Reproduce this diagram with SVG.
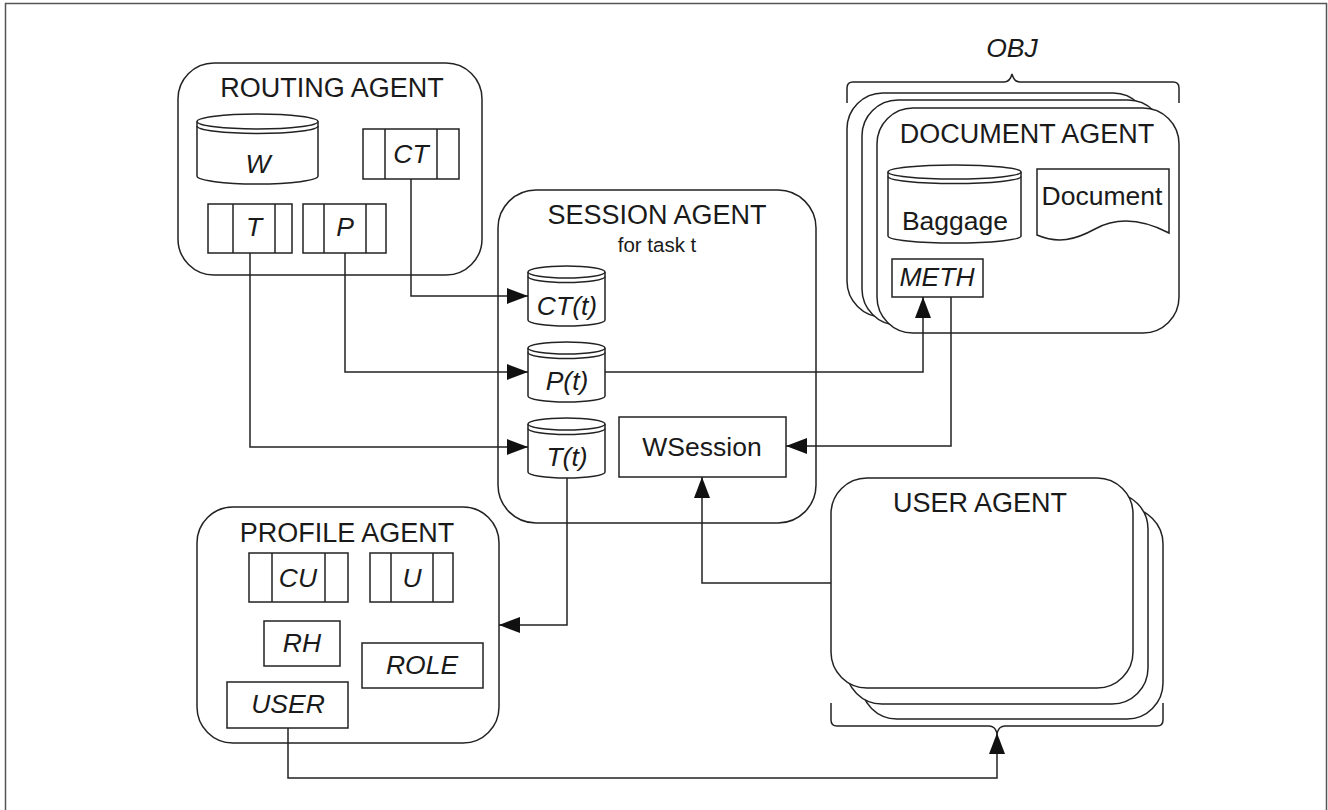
<svg xmlns="http://www.w3.org/2000/svg" width="1328" height="810" viewBox="0 0 1328 810">
  <defs>
    <style>
      .frame { fill: #fff; stroke: #555; stroke-width: 1.5; }
      .box { fill: #fff; stroke: #222; stroke-width: 1.5; }
      .ln { fill: none; stroke: #222; stroke-width: 1.5; }
      .wire { fill: none; stroke: #222; stroke-width: 1.5; }
      .t { font-family: "Liberation Sans", Arial, sans-serif; font-size: 26.5px; fill: #1a1a1a; text-anchor: middle; }
      .h { font-size: 27px; }
      .i { font-style: italic; }
      .s { font-size: 20.5px; }
    </style>
    <marker id="arr" markerUnits="userSpaceOnUse" markerWidth="22" markerHeight="16" viewBox="0 0 22 16" refX="21" refY="8" orient="auto">
      <path d="M0,0 L21,8 L0,16 Z" fill="#111"/>
    </marker>
  </defs>

  <rect class="frame" x="5.5" y="3.5" width="1321" height="812"/>

  <!-- Routing agent -->
  <g id="routing-agent">
    <rect class="box" x="178" y="63" width="304" height="212" rx="36"/>
    <text class="t h" x="332" y="97">ROUTING AGENT</text>
    <!-- W store -->
    <path class="box" d="M197,121.5 L197,176 A60.5,8 0 0 0 318,176 L318,121.5"/>
    <ellipse class="box" cx="257.5" cy="121.5" rx="60.5" ry="7.5"/>
    <path class="ln" d="M197,126 A60.5,7.5 0 0 0 318,126"/>
    <text class="t i" x="258" y="173">W</text>
    <!-- CT queue -->
    <rect class="box" x="363" y="129" width="96" height="50"/>
    <path class="ln" d="M385,129 V179 M437,129 V179"/>
    <text class="t i" x="411" y="163">CT</text>
    <!-- T queue -->
    <rect class="box" x="208" y="204" width="84" height="49"/>
    <path class="ln" d="M233,204 V253 M275,204 V253"/>
    <text class="t i" x="254" y="236">T</text>
    <!-- P queue -->
    <rect class="box" x="303" y="204" width="83" height="49"/>
    <path class="ln" d="M324,204 V253 M366,204 V253"/>
    <text class="t i" x="345" y="236">P</text>
  </g>

  <!-- Session agent -->
  <g id="session-agent">
    <rect class="box" x="498" y="190" width="318" height="333" rx="38"/>
    <text class="t h" x="657" y="224">SESSION AGENT</text>
    <text class="t s" x="657" y="252">for task t</text>
    <!-- CT(t) -->
    <path class="box" d="M528,272 L528,320 A38.5,6 0 0 0 605,320 L605,272"/>
    <ellipse class="box" cx="566.5" cy="272" rx="38.5" ry="6"/>
    <path class="ln" d="M528,276.5 A38.5,6 0 0 0 605,276.5"/>
    <text class="t i" x="567" y="315">CT(t)</text>
    <!-- P(t) -->
    <path class="box" d="M528,348 L528,396 A38.5,6 0 0 0 605,396 L605,348"/>
    <ellipse class="box" cx="566.5" cy="348" rx="38.5" ry="6"/>
    <path class="ln" d="M528,352.5 A38.5,6 0 0 0 605,352.5"/>
    <text class="t i" x="567" y="390">P(t)</text>
    <!-- T(t) -->
    <path class="box" d="M528,424 L528,472 A38.5,6 0 0 0 605,472 L605,424"/>
    <ellipse class="box" cx="566.5" cy="424" rx="38.5" ry="6"/>
    <path class="ln" d="M528,428.5 A38.5,6 0 0 0 605,428.5"/>
    <text class="t i" x="567" y="466">T(t)</text>
    <!-- WSession -->
    <rect class="box" x="619" y="417" width="167" height="60"/>
    <text class="t" x="702" y="456">WSession</text>
  </g>

  <!-- Document agents (stack) -->
  <g id="document-agent">
    <text class="t i" x="1012" y="57">OBJ</text>
    <path class="ln" d="M847,103 L847,88 Q847,82 853,82 L1004,82 Q1010,82 1012,74 Q1014,82 1020,82 L1173,82 Q1179,82 1179,88 L1179,103"/>
    <rect class="box" x="847" y="93" width="302" height="224" rx="36"/>
    <rect class="box" x="862" y="100" width="302" height="225" rx="36"/>
    <rect class="box" x="877" y="108" width="302" height="225" rx="36"/>
    <text class="t h" x="1027" y="143">DOCUMENT AGENT</text>
    <!-- Baggage store -->
    <path class="box" d="M888,172 L888,236 A66.5,7 0 0 0 1021,236 L1021,172"/>
    <ellipse class="box" cx="954.5" cy="172" rx="66.5" ry="7"/>
    <path class="ln" d="M888,176.5 A66.5,7 0 0 0 1021,176.5"/>
    <text class="t" x="955" y="230">Baggage</text>
    <!-- Document sheet -->
    <path class="box" d="M1037,169 L1169,169 L1169,233 C1140,218 1115,218 1095,229 C1075,240 1058,244 1037,235 Z"/>
    <text class="t" x="1102" y="205">Document</text>
    <!-- METH -->
    <rect class="box" x="892" y="259" width="91" height="38"/>
    <text class="t i" x="937" y="286">METH</text>
  </g>

  <!-- Profile agent -->
  <g id="profile-agent">
    <rect class="box" x="197" y="507" width="302" height="236" rx="36"/>
    <text class="t h" x="347" y="542">PROFILE AGENT</text>
    <rect class="box" x="249" y="553" width="99" height="49"/>
    <path class="ln" d="M272,553 V602 M325,553 V602"/>
    <text class="t i" x="298" y="587">CU</text>
    <rect class="box" x="370" y="553" width="83" height="49"/>
    <path class="ln" d="M391,553 V602 M433,553 V602"/>
    <text class="t i" x="412" y="587">U</text>
    <rect class="box" x="264" y="621" width="76" height="45"/>
    <text class="t i" x="302" y="652">RH</text>
    <rect class="box" x="362" y="643" width="121" height="45"/>
    <text class="t i" x="422" y="674">ROLE</text>
    <rect class="box" x="227" y="682" width="121" height="46"/>
    <text class="t i" x="288" y="713">USER</text>
  </g>

  <!-- User agents (stack) -->
  <g id="user-agent">
    <rect class="box" x="861" y="508" width="302" height="211" rx="36"/>
    <rect class="box" x="846" y="493" width="302" height="211" rx="36"/>
    <rect class="box" x="831" y="478" width="302" height="210" rx="36"/>
    <text class="t h" x="980" y="512">USER AGENT</text>
    <path class="ln" d="M831,703 L831,720 Q831,726 837,726 L989,726 Q995,726 997,733 Q999,726 1005,726 L1157,726 Q1163,726 1163,720 L1163,703"/>
  </g>

  <!-- Connectors -->
  <g id="connectors">
    <path class="wire" d="M411,179 V296 H528" marker-end="url(#arr)"/>
    <path class="wire" d="M345,253 V372 H528" marker-end="url(#arr)"/>
    <path class="wire" d="M250,253 V447 H528" marker-end="url(#arr)"/>
    <path class="wire" d="M605,372 H923 V297" marker-end="url(#arr)"/>
    <path class="wire" d="M951,297 V446 H786" marker-end="url(#arr)"/>
    <path class="wire" d="M831,583 H702 V477" marker-end="url(#arr)"/>
    <path class="wire" d="M567,478 V625 H499" marker-end="url(#arr)"/>
    <path class="wire" d="M288,728 V778 H997 V733" marker-end="url(#arr)"/>
  </g>
</svg>
